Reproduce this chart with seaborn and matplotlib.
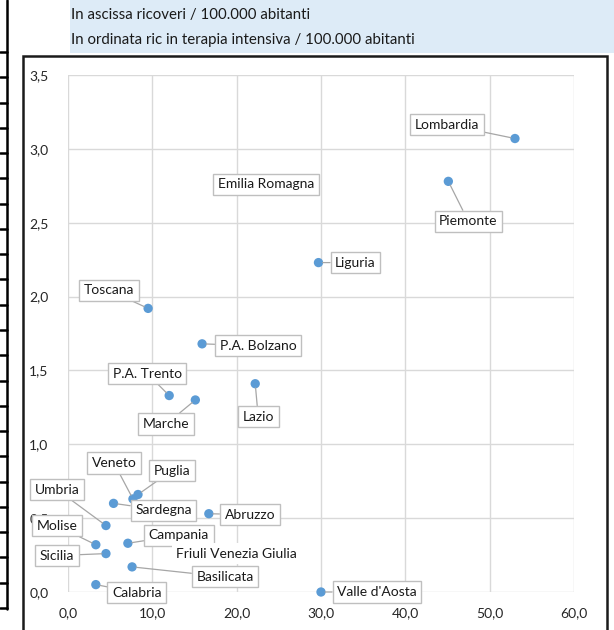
import matplotlib
matplotlib.use("Agg")
import matplotlib.pyplot as plt
from matplotlib.patches import Rectangle
from matplotlib.lines import Line2D
from matplotlib.ticker import FuncFormatter
import pandas as pd
import seaborn as sns

# dati
regioni = ["Lombardia", "Piemonte", "Emilia Romagna", "Liguria", "Toscana",
           "P.A. Bolzano", "Lazio", "P.A. Trento", "Marche", "Puglia", "Veneto",
           "Sardegna", "Abruzzo", "Umbria", "Campania", "Molise", "Sicilia",
           "Friuli Venezia Giulia", "Basilicata", "Calabria", "Valle d'Aosta"]
ricoveri = [53.0, 45.1, 23.5, 29.7, 9.5, 15.9, 22.2, 12.0, 15.1, 8.3, 7.7,
            5.4, 16.7, 4.5, 7.1, 3.3, 4.5, 20.0, 7.6, 3.3, 30.0]
terapia_int = [3.07, 2.78, 2.76, 2.23, 1.92, 1.68, 1.41, 1.33, 1.30, 0.66, 0.63,
               0.60, 0.53, 0.45, 0.33, 0.32, 0.26, 0.26, 0.17, 0.05, 0.0]
x_ticks = [0, 10, 20, 30, 40, 50, 60]
y_ticks = [0, 0.5, 1.0, 1.5, 2.0, 2.5, 3.0, 3.5]
titolo = ["In ascissa ricoveri / 100.000 abitanti",
          "In ordinata ric in terapia intensiva / 100.000 abitanti"]

# spostamento etichette (pixel)
offset_etichette = {
    "Lombardia": (-68, 14), "Piemonte": (20, -40), "Emilia Romagna": (0, 0),
    "Liguria": (37, 0), "Toscana": (-39, 18), "P.A. Bolzano": (56, -2),
    "Lazio": (3, -33), "P.A. Trento": (-22, 22), "Marche": (-29, -24),
    "Puglia": (34, 24), "Veneto": (-19, 36), "Sardegna": (50, -7),
    "Abruzzo": (41, -1), "Umbria": (-49, 36), "Campania": (51, 8),
    "Molise": (-39, 19), "Sicilia": (-49, -2), "Friuli Venezia Giulia": (0, 0),
    "Basilicata": (93, -10), "Calabria": (41, -8), "Valle d'Aosta": (56, 0),
}

df = pd.DataFrame({"regione": regioni, "ricoveri": ricoveri, "ti": terapia_int})

sns.set_style("white")
plt.rcParams["font.family"] = ["Lato", "DejaVu Sans"]

W, H = 614, 630
fig = plt.figure(figsize=(W / 100, H / 100), dpi=100)
ax = fig.add_axes([68 / W, 1 - 592 / H, (574 - 68) / W, (592 - 75) / H])

sns.scatterplot(data=df, x="ricoveri", y="ti", ax=ax, color="#5B9BD5",
                s=45, edgecolor="none", clip_on=False, zorder=3)

ax.set_xlim(0, 60)
ax.set_ylim(0, 3.5)
ax.set_xticks(x_ticks)
ax.set_yticks(y_ticks)
fmt = FuncFormatter(lambda v, p: f"{v:.1f}".replace(".", ","))
ax.xaxis.set_major_formatter(fmt)
ax.yaxis.set_major_formatter(fmt)
ax.tick_params(length=0, labelsize=10, labelcolor="#262626")
ax.tick_params(axis="x", pad=11)
ax.tick_params(axis="y", pad=14)
ax.grid(True, color="#D9D9D9", lw=1)
ax.set_axisbelow(True)
for s in ax.spines.values():
    s.set_visible(False)
ax.set_xlabel("")
ax.set_ylabel("")

for reg, xv, yv in zip(regioni, ricoveri, terapia_int):
    dx, dy = offset_etichette[reg]
    if reg == "Friuli Venezia Giulia":
        box = dict(boxstyle="square,pad=0.3", fc="white", ec="none")
    else:
        box = dict(boxstyle="square,pad=0.33", fc="white", ec="#BFBFBF", lw=1)
    arrow = None
    if (dx, dy) != (0, 0):
        arrow = dict(arrowstyle="-", color="#A6A6A6", lw=0.9,
                     shrinkA=0, shrinkB=3)
    ax.annotate(reg, (xv, yv), xytext=(dx, dy), textcoords="offset pixels",
                ha="center", va="center", fontsize=10, color="#1a1a1a",
                bbox=box, arrowprops=arrow, zorder=5, annotation_clip=False)

# riquadro titolo
fig.add_artist(Rectangle((70 / W, 1 - 53 / H), (W - 70) / W, 53 / H,
                         transform=fig.transFigure, fc="#DDEBF7", ec="none"))
fig.text(71 / W, 1 - 15 / H, titolo[0], fontsize=10.8, va="center", color="#1a1a1a")
fig.text(71 / W, 1 - 40 / H, titolo[1], fontsize=10.8, va="center", color="#1a1a1a")

# bordo del grafico
fig.add_artist(Rectangle((23 / W, -0.02), (607 - 23) / W, 1.02 - 56 / H,
                         transform=fig.transFigure, fc="none", ec="#1a1a1a", lw=1.8))

# tabella a sinistra
fig.add_artist(Line2D([7 / W, 7 / W], [1, 1 - 609 / H], transform=fig.transFigure,
                      color="black", lw=1.8))
for k in range(23):
    yy = 1 - (52 + 25.27 * k) / H
    fig.add_artist(Line2D([0, 7 / W], [yy, yy], transform=fig.transFigure,
                          color="black", lw=1.8))

fig.savefig("out.png", dpi=100)
